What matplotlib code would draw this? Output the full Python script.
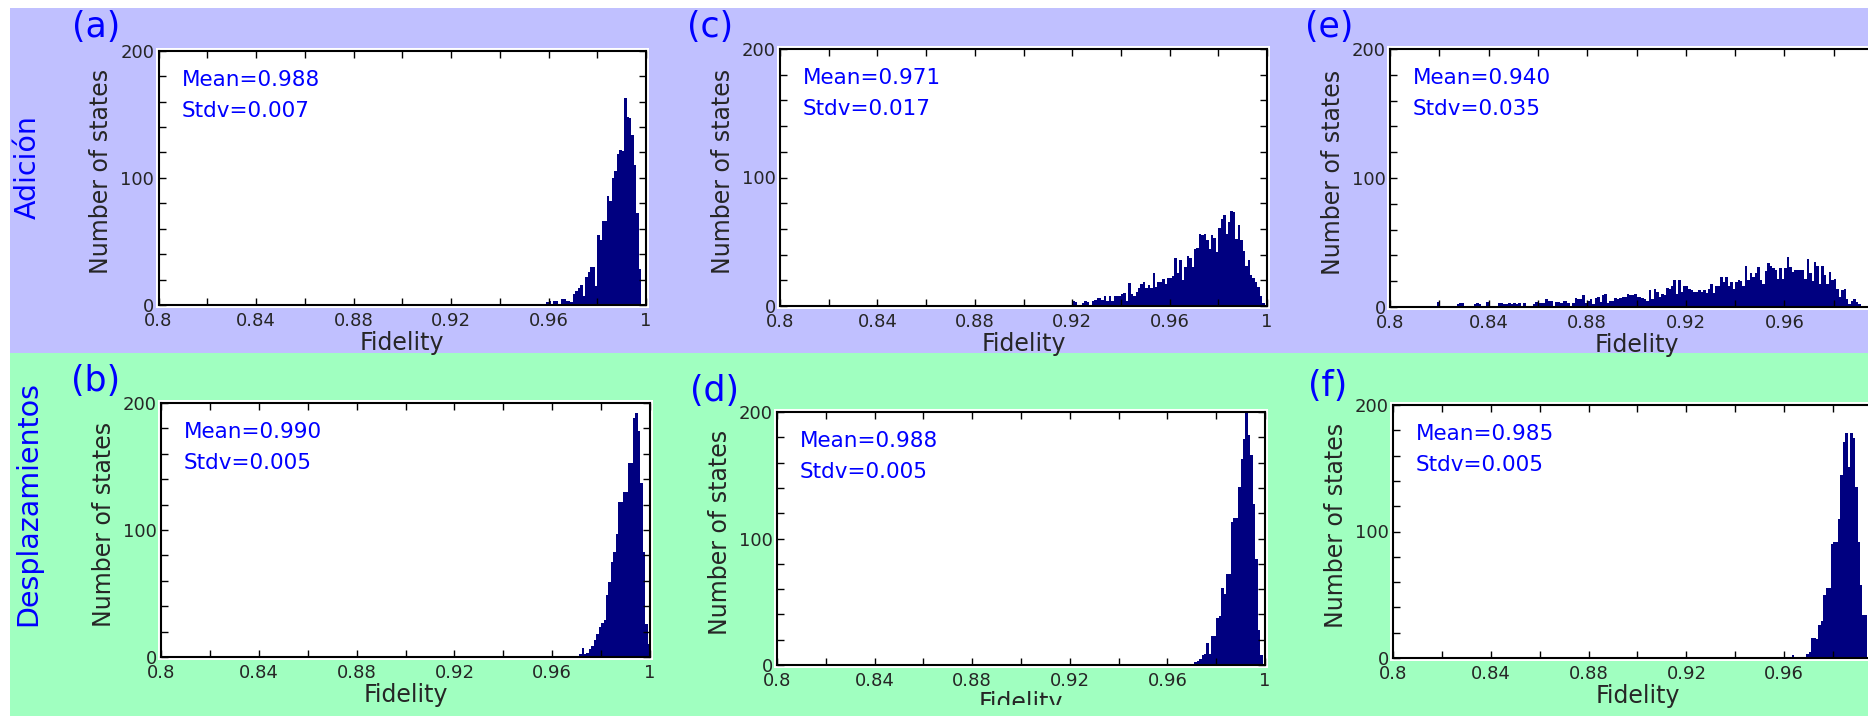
import numpy as np
import matplotlib
matplotlib.use('Agg')
import matplotlib.pyplot as plt
from matplotlib.patches import Rectangle
from matplotlib.transforms import Bbox, TransformedBbox

# Histogram counts per fidelity bin (bin width 0.001), each list starts at its own left edge
bin_width = 0.001

start_a = 0.940
counts_a = [1, 0, 0, 0, 1, 0, 0, 0, 0, 0,
            0, 0, 1, 1, 0, 1, 1, 0, 1, 2,
            3, 1, 3, 3, 1, 5, 5, 3, 3, 2,
            9, 11, 13, 16, 7, 22, 26, 30, 30, 15,
            55, 51, 66, 66, 86, 82, 100, 105, 119, 122,
            121, 163, 148, 147, 134, 110, 72, 28, 1, 0]

start_b = 0.960
counts_b = [0, 0, 0, 1, 0, 1, 0, 1, 1, 0,
            1, 2, 7, 2, 3, 6, 9, 13, 18, 24,
            27, 29, 49, 59, 75, 83, 97, 122, 122, 130,
            130, 153, 153, 188, 192, 178, 137, 83, 26, 10]

start_c = 0.880
counts_c = [0, 0, 0, 0, 0, 0, 0, 0, 0, 0,
            0, 0, 0, 0, 0, 1, 0, 0, 0, 0,
            0, 0, 1, 1, 0, 1, 1, 0, 0, 0,
            1, 1, 0, 0, 1, 1, 1, 1, 1, 0,
            4, 3, 1, 1, 2, 4, 3, 1, 4, 5,
            6, 6, 5, 8, 4, 8, 4, 8, 8, 8,
            9, 10, 4, 18, 9, 8, 11, 14, 17, 19,
            14, 16, 14, 26, 15, 19, 19, 21, 17, 22,
            22, 23, 37, 26, 36, 20, 30, 39, 37, 30,
            44, 45, 56, 55, 56, 51, 44, 55, 53, 42,
            61, 68, 71, 56, 65, 74, 73, 52, 63, 51,
            43, 31, 36, 24, 22, 19, 15, 8, 2, 0]

start_d = 0.960
counts_d = [0, 0, 0, 0, 0, 1, 1, 1, 1, 0,
            1, 2, 3, 5, 8, 9, 17, 9, 23, 23,
            37, 39, 61, 56, 72, 72, 113, 116, 116, 141,
            163, 179, 200, 182, 166, 127, 84, 28, 8, 0]

start_e = 0.800
counts_e = [0, 1, 0, 1, 1, 1, 0, 1, 1, 1,
            0, 1, 1, 1, 1, 1, 1, 1, 0, 4,
            1, 1, 0, 1, 1, 0, 1, 2, 3, 3,
            1, 0, 1, 1, 2, 3, 2, 1, 1, 4,
            1, 0, 1, 0, 3, 3, 2, 2, 3, 2,
            3, 2, 3, 1, 3, 1, 1, 1, 2, 4,
            3, 3, 3, 6, 5, 5, 1, 4, 4, 3,
            5, 5, 3, 1, 3, 7, 6, 6, 9, 3,
            5, 6, 2, 7, 8, 4, 9, 10, 3, 5,
            5, 7, 6, 7, 8, 8, 10, 9, 9, 10,
            8, 8, 7, 6, 5, 13, 6, 14, 12, 8,
            10, 9, 15, 14, 16, 21, 10, 21, 12, 16,
            16, 14, 13, 12, 12, 13, 12, 13, 11, 14,
            18, 11, 16, 16, 23, 19, 23, 16, 19, 14,
            19, 21, 20, 16, 32, 21, 26, 23, 26, 31,
            21, 18, 28, 34, 32, 30, 29, 22, 30, 22,
            30, 39, 31, 27, 29, 29, 29, 29, 22, 37,
            26, 20, 35, 32, 18, 32, 25, 18, 27, 21,
            22, 14, 8, 13, 14, 6, 2, 5, 6, 4,
            2, 1, 1, 1]

start_f = 0.960
counts_f = [0, 0, 0, 2, 1, 1, 1, 1, 1, 3,
            5, 16, 16, 15, 26, 29, 50, 55, 55, 90,
            92, 92, 110, 145, 171, 178, 151, 178, 174, 135,
            92, 58, 34, 34]

letters = ['(a)', '(b)', '(c)', '(d)', '(e)', '(f)']
means = ['0.988', '0.990', '0.971', '0.988', '0.940', '0.985']
stdvs = ['0.007', '0.005', '0.017', '0.005', '0.035', '0.005']
row_titles = ['Adición', 'Desplazamientos']

x_ticks = [0.8, 0.82, 0.84, 0.86, 0.88, 0.9, 0.92, 0.94, 0.96, 0.98, 1.0]
x_ticklabels = ['0.8', '', '0.84', '', '0.88', '', '0.92', '', '0.96', '', '1']
y_ticks = [0, 20, 40, 60, 80, 100, 120, 140, 160, 180, 200]
y_ticklabels = ['0', '', '', '', '', '100', '', '', '', '', '200']

starts = [start_a, start_b, start_c, start_d, start_e, start_f]
counts = [counts_a, counts_b, counts_c, counts_d, counts_e, counts_f]

# layout in pixels: axes box (left, top, right, bottom) and letter anchor (right, center y)
W, H = 1868, 716
boxes = [(158.5, 50.7, 646, 305), (161, 403, 650, 657),
         (780, 49, 1267, 306), (777, 412, 1265, 665),
         (1390, 49, 1883, 307), (1393, 405, 1882, 658)]
letter_pos = [(120, 27.5), (120, 381.5), (733, 27.5), (739, 391.5), (1353, 27.5), (1347, 386)]

BAR = '#000080'
BLUE = '#0000FF'
TXT = '#262626'
plt.rcParams['font.family'] = ['DejaVu Sans']

fig = plt.figure(figsize=(W / 100, H / 100), dpi=100)


def fx(x):
    return x / W


def fy(y):
    return 1 - y / H


# coloured row bands
fig.add_artist(Rectangle((fx(10), fy(363)), 1, (363 - 8) / H, transform=fig.transFigure,
                         facecolor='#C0C0FF', edgecolor='none', zorder=0))
fig.add_artist(Rectangle((fx(10), 0), 1, 363 / H, transform=fig.transFigure,
                         facecolor='#A0FFC0', edgecolor='none', zorder=0))

fig.text(fx(28), fy(167), row_titles[0], rotation=90, ha='center', va='center',
         fontsize=20.5, color=BLUE)
fig.text(fx(28), fy(503), row_titles[1], rotation=90, ha='center', va='center',
         fontsize=20.5, color=BLUE)

for k in range(6):
    l, t, r, b = boxes[k]
    # white margin around each plot frame
    fig.add_artist(Rectangle((fx(l - 3), fy(b + 3)), (r - l + 6) / W, (b - t + 6) / H,
                             transform=fig.transFigure, facecolor='white',
                             edgecolor='none', zorder=0.5))
    ax = fig.add_axes([fx(l), fy(b), (r - l) / W, (b - t) / H])
    ax.set_zorder(1)

    c = np.array(counts[k], dtype=float)
    edges = starts[k] + bin_width * np.arange(len(c) + 1)
    ax.stairs(c, edges, fill=True, color=BAR, linewidth=0)

    ax.set_xlim(0.8, 1.0)
    ax.set_ylim(0, 200)
    ax.set_xticks(x_ticks)
    ax.set_xticklabels(x_ticklabels)
    ax.set_yticks(y_ticks)
    ax.set_yticklabels(y_ticklabels)
    ax.tick_params(direction='in', length=5, width=1, top=True, right=True,
                   labelsize=13, labelcolor=TXT, color='black')
    ax.tick_params(axis='x', pad=5)
    ax.tick_params(axis='y', pad=3)
    for s in ax.spines.values():
        s.set_linewidth(1.5)
        s.set_color('black')

    ax.text(23 / (r - l), 1 - 29 / (b - t), 'Mean=' + means[k], transform=ax.transAxes,
            ha='left', va='center', fontsize=15.5, color=BLUE)
    ax.text(23 / (r - l), 1 - 60 / (b - t), 'Stdv=' + stdvs[k], transform=ax.transAxes,
            ha='left', va='center', fontsize=15.5, color=BLUE)

    fig.text(fx(l - 57), fy((t + b) / 2 - 6), 'Number of states', rotation=90,
             ha='center', va='center', fontsize=17, color=TXT)
    xl = fig.text(fx((l + min(r, W + 15)) / 2 if k < 4 else (l + r) / 2), fy(b + 38),
                  'Fidelity', ha='center', va='center', fontsize=17, color=TXT)
    if k == 3:
        # this panel's label is cut off at the bottom
        xl.set_clip_box(TransformedBbox(Bbox.from_extents(0, 11 / H, 1, 1), fig.transFigure))

    lx, ly = letter_pos[k]
    fig.text(fx(lx), fy(ly), letters[k], ha='right', va='center', fontsize=25, color=BLUE)

fig.savefig('out.png', dpi=100)
